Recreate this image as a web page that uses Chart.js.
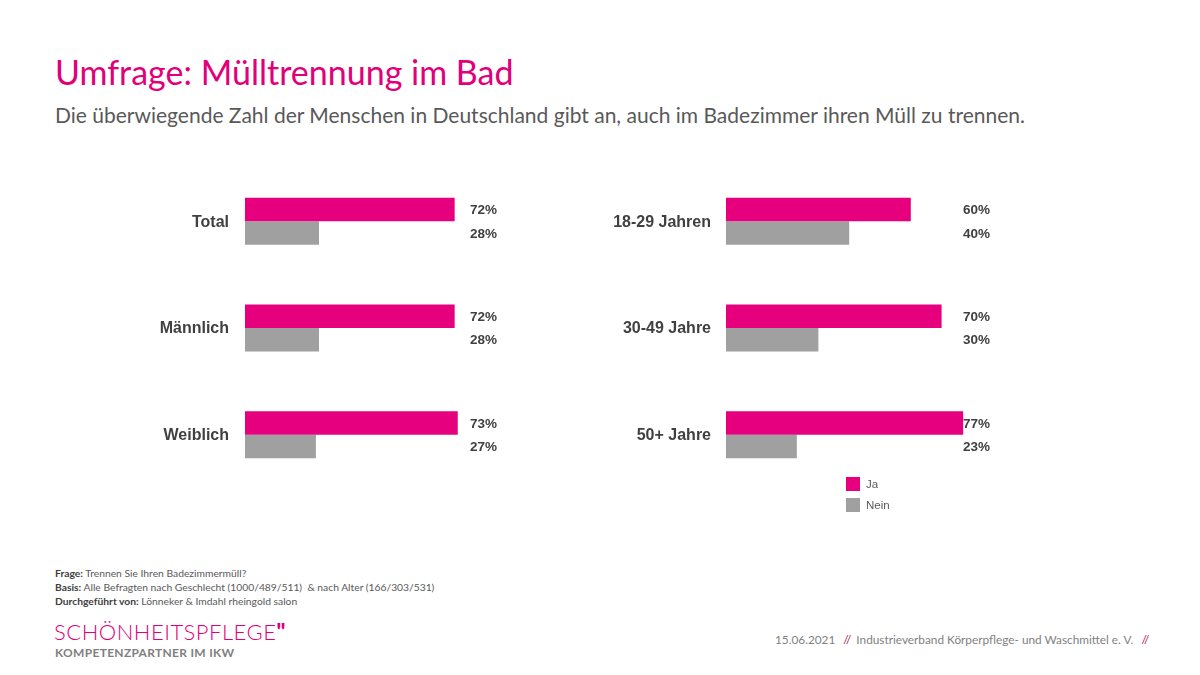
<!DOCTYPE html>
<html><head><meta charset="utf-8">
<script src="https://cdn.jsdelivr.net/npm/chart.js@4.4.1/dist/chart.umd.min.js"></script>
<style>
html,body{margin:0;padding:0;background:#fff;}
body{width:1200px;height:675px;position:relative;overflow:hidden;font-family:Lato,"Open Sans",sans-serif;}
.abs{position:absolute;}
#title{left:55px;top:51px;font-size:34px;color:#E2007A;white-space:nowrap;}
#sub{left:55px;top:102px;font-size:21px;color:#595959;white-space:nowrap;}
#foot{left:55px;top:566px;font-size:10.3px;color:#595959;line-height:14px;white-space:nowrap;}
#foot b{color:#404040;}
#logo1{left:54px;top:618px;font-size:22px;color:#E2007A;font-weight:300;letter-spacing:0.5px;white-space:nowrap;}
#logo1 b{font-weight:900;}
#logo2{left:55px;top:645px;font-size:12px;color:#7f7f7f;font-weight:700;letter-spacing:0.3px;white-space:nowrap;}
#right{left:775px;top:632px;font-size:11.8px;color:#7f7f7f;white-space:nowrap;}
#right span{color:#B0124E;margin:0 5px;}
#legend{left:846px;top:473px;font-family:Arial,"Liberation Sans",sans-serif;font-size:11.5px;color:#595959;}
.li{display:flex;align-items:center;height:21px;}
.sw{width:14px;height:14px;margin-right:6px;}
</style></head>
<body>
<div id="title" class="abs">Umfrage: Mülltrennung im Bad</div>
<div id="sub" class="abs">Die überwiegende Zahl der Menschen in Deutschland gibt an, auch im Badezimmer ihren Müll zu trennen.</div>
<div class="abs" style="left:100px;top:168px;width:441px;height:320px;"><canvas id="c1"></canvas></div>
<div class="abs" style="left:560px;top:168px;width:474px;height:320px;"><canvas id="c2"></canvas></div>
<div id="legend" class="abs"></div>
<div id="foot" class="abs"><b>Frage:</b> Trennen Sie Ihren Badezimmermüll?<br><b>Basis:</b> Alle Befragten nach Geschlecht (1000/489/511)&nbsp; &amp; nach Alter (166/303/531)<br><b>Durchgeführt von:</b> Lönneker &amp; Imdahl rheingold salon</div>
<div id="logo1" class="abs">SCHÖNHEITSPFLEGE<b>"</b></div>
<div id="logo2" class="abs">KOMPETENZPARTNER IM IKW</div>
<div id="right" class="abs">15.06.2021 <span>//</span>Industrieverband Körperpflege- und Waschmittel e. V. <span>//</span></div>
<script>
const seriesNames = ["Ja", "Nein"];
const seriesColors = ["#E6007E", "#A0A0A0"];
const genderCategories = ["Total", "Männlich", "Weiblich"];
const genderJa = [72, 72, 73];
const genderNein = [28, 28, 27];
const ageCategories = ["18-29 Jahren", "30-49 Jahre", "50+ Jahre"];
const ageJa = [60, 70, 77];
const ageNein = [40, 30, 23];

const labelsPlugin = {
  id: 'labelsPlugin',
  afterDatasetsDraw(chart, args, opts) {
    const ctx = chart.ctx;
    const area = chart.chartArea;
    ctx.save();
    ctx.textBaseline = 'middle';
    // value labels
    ctx.font = 'bold 13.5px Arial, "Liberation Sans", sans-serif';
    ctx.fillStyle = '#404040';
    ctx.textAlign = 'left';
    chart.data.datasets.forEach((ds, i) => {
      chart.getDatasetMeta(i).data.forEach((bar, j) => {
        ctx.fillText(ds.data[j] + '%', area.left + opts.offset, bar.y + 1);
      });
    });
    // category labels
    ctx.font = 'bold 16px Arial, "Liberation Sans", sans-serif';
    ctx.textAlign = 'right';
    const ys = chart.scales.y;
    chart.data.labels.forEach((lab, j) => {
      ctx.fillText(lab, area.left - opts.gap, ys.getPixelForValue(j) + 1);
    });
    ctx.restore();
  }
};

function makeChart(id, cats, ja, nein, xmin, axisW, gap, offset) {
  return new Chart(document.getElementById(id), {
    type: 'bar',
    data: {
      labels: cats,
      datasets: [
        {label: seriesNames[0], data: ja, backgroundColor: seriesColors[0]},
        {label: seriesNames[1], data: nein, backgroundColor: seriesColors[1]}
      ]
    },
    options: {
      indexAxis: 'y',
      responsive: true,
      maintainAspectRatio: false,
      animation: false,
      layout: {padding: {left: axisW, right: 0, top: 0, bottom: 0}},
      datasets: {bar: {categoryPercentage: 0.44, barPercentage: 1, base: xmin}},
      plugins: {legend: {display: false}, tooltip: {enabled: false}, labelsPlugin: {offset: offset, gap: gap}},
      scales: {
        x: {display: false, min: xmin, max: 100},
        y: {display: false}
      }
    },
    plugins: [labelsPlugin]
  });
}
makeChart('c1', genderCategories, genderJa, genderNein, 4, 145, 16, 225);
makeChart('c2', ageCategories, ageJa, ageNein, 0, 166, 15, 237);

const lg = document.getElementById('legend');
seriesNames.forEach((n, i) => {
  lg.innerHTML += '<div class="li"><div class="sw" style="background:' + seriesColors[i] + '"></div>' + n + '</div>';
});
</script>
</body></html>
